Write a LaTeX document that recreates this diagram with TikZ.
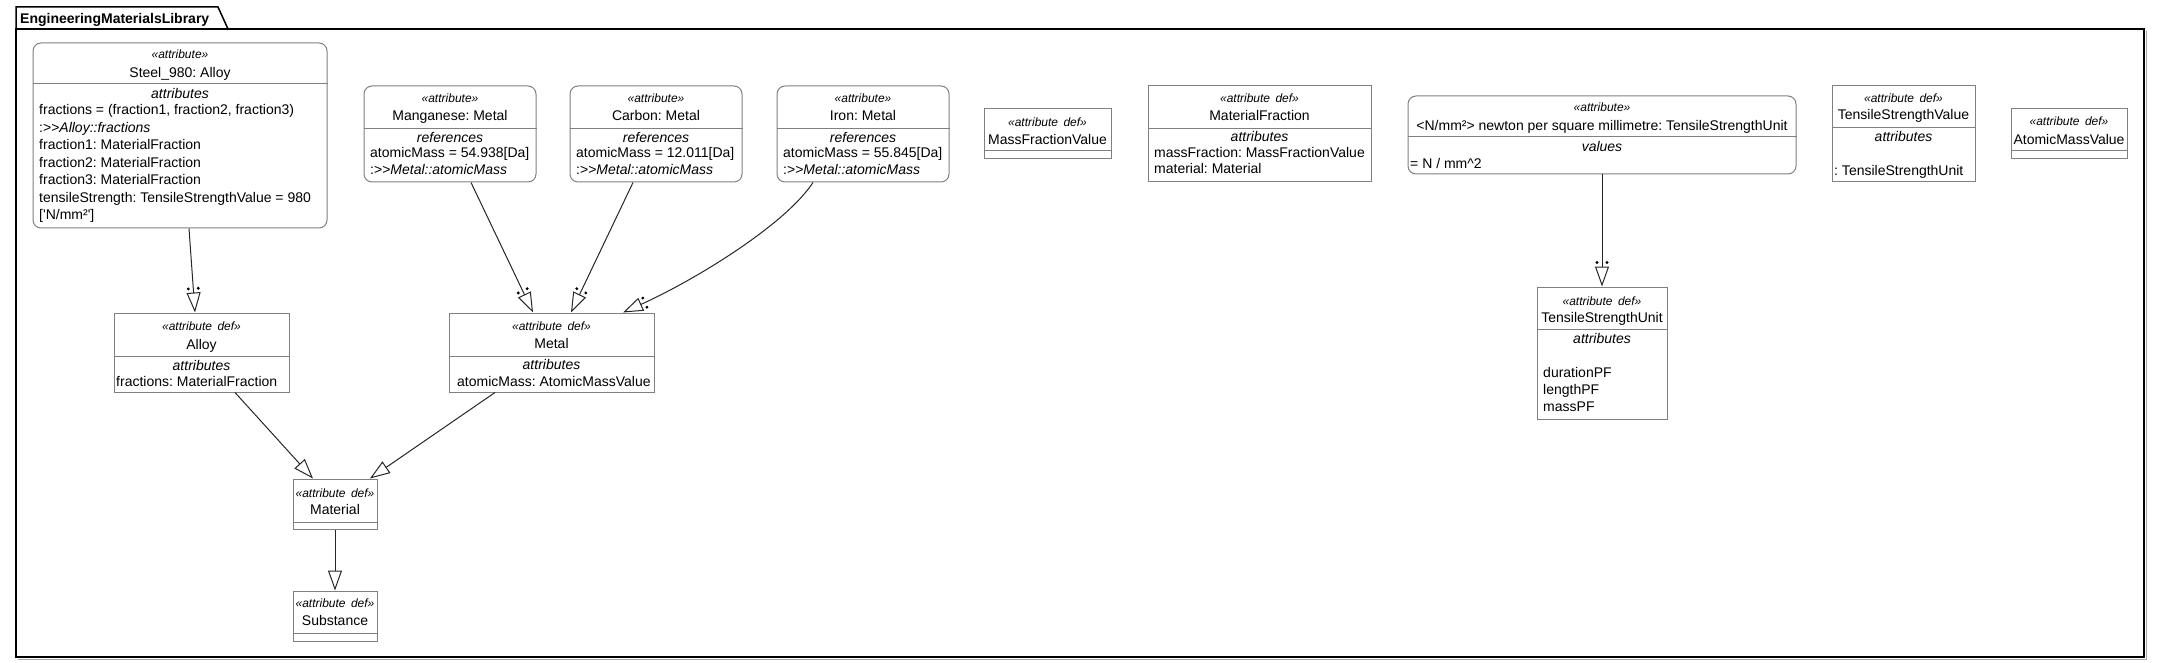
\documentclass[tikz,border=0pt]{standalone}
\usepackage{fontspec}
\newfontfamily\umlfont{Liberation Sans}
\usetikzlibrary{arrows.meta}
\usetikzlibrary{calc}
\frenchspacing
\tikzset{%
    blk/.style={draw=black!50, line width=1pt, inner sep=0pt, fill=white},
    inst/.style={blk, rounded corners=8pt},
    sep/.style={draw=black!50, line width=1pt},
    ster/.style={font=\umlfont\fontsize{12}{14}\selectfont\itshape, inner sep=0pt, anchor=base, yshift=-4pt},
    ttl/.style={font=\umlfont\fontsize{14}{17}\selectfont, inner sep=0pt, anchor=base, yshift=-5pt},
    cmp/.style={ttl, font=\umlfont\fontsize{14}{17}\selectfont\itshape},
    ln/.style={ttl, anchor=base west},
    conn/.style={draw=black!85, line width=1pt},
    gen/.style={conn, -{Triangle[open, length=20pt, width=14pt]}},
    typed/.style={gen},
    dot/.style={fill=black}
}
\begin{document}
\begin{tikzpicture}[x=1pt, y=-1pt]
    \useasboundingbox (0,0) rectangle (2160,663);
    % package frame
    \draw[black!35, line width=1pt] (2146.5,31) -- (2146.5,659.5) -- (18,659.5);
    \draw[line width=1.5pt] (16,29) rectangle (2144,657);
    \draw[line width=1.5pt] (16,29) -- (16,7) -- (218,7) -- (228,29);
    \node[ln, font=\umlfont\fontsize{14}{17}\selectfont\bfseries] (pkg) at (20,19) {EngineeringMaterialsLibrary};

    \node[inst, minimum width=294pt, minimum height=185pt] (steel) at (180,135.5) {};
    \draw[sep] (steel.west |- 0,84) -- (steel.east |- 0,84);
    \node[ster] (steel-st) at (180,55) {«attribute»};
    \node[ttl] (steel-nm) at (180,73) {Steel\_980: Alloy};
    \node[cmp] (steel-cp) at (180,94) {attributes};
    \node[ln] (steel-a1) at (39,109.3) {fractions = (fraction1, fraction2, fraction3)};
    \node[ln] (steel-a2) at (39,127.3) {:>>\textit{Alloy::fractions}};
    \node[ln] (steel-a3) at (39,145) {fraction1: MaterialFraction};
    \node[ln] (steel-a4) at (39,162.7) {fraction2: MaterialFraction};
    \node[ln] (steel-a5) at (39,180) {fraction3: MaterialFraction};
    \node[ln] (steel-a6) at (39,198) {tensileStrength: TensileStrengthValue = 980};
    \node[ln] (steel-a7) at (39,214.5) {['N/mm²']};

    \node[inst, minimum width=172pt, minimum height=96pt] (mang) at (450,134) {};
    \draw[sep] (mang.west |- 0,129) -- (mang.east |- 0,129);
    \node[ster] (mang-st) at (450,99) {«attribute»};
    \node[ttl] (mang-nm) at (450,116) {Manganese: Metal};
    \node[cmp] (mang-cp) at (450,138) {references};
    \node[ln] (mang-a1) at (370,153) {atomicMass = 54.938[Da]};
    \node[ln] (mang-a2) at (370,170) {:>>\textit{Metal::atomicMass}};

    \node[inst, minimum width=172pt, minimum height=96pt] (carbon) at (656,134) {};
    \draw[sep] (carbon.west |- 0,129) -- (carbon.east |- 0,129);
    \node[ster] (carbon-st) at (656,99) {«attribute»};
    \node[ttl] (carbon-nm) at (656,116) {Carbon: Metal};
    \node[cmp] (carbon-cp) at (656,138) {references};
    \node[ln] (carbon-a1) at (576,153) {atomicMass = 12.011[Da]};
    \node[ln] (carbon-a2) at (576,170) {:>>\textit{Metal::atomicMass}};

    \node[inst, minimum width=172pt, minimum height=96pt] (iron) at (863,134) {};
    \draw[sep] (iron.west |- 0,129) -- (iron.east |- 0,129);
    \node[ster] (iron-st) at (863,99) {«attribute»};
    \node[ttl] (iron-nm) at (863,116) {Iron: Metal};
    \node[cmp] (iron-cp) at (863,138) {references};
    \node[ln] (iron-a1) at (783,153) {atomicMass = 55.845[Da]};
    \node[ln] (iron-a2) at (783,170) {:>>\textit{Metal::atomicMass}};

    \node[blk, minimum width=127pt, minimum height=50pt] (mfv) at (1047.5,134) {};
    \draw[sep] (mfv.west |- 0,151) -- (mfv.east |- 0,151);
    \node[ster] (mfv-st) at (1047.5,122.5) {«attribute\hspace{0.45em}def»};
    \node[ttl] (mfv-nm) at (1047.5,139.5) {MassFractionValue};

    \node[blk, minimum width=223pt, minimum height=96pt] (matfrac) at (1259.5,134) {};
    \draw[sep] (matfrac.west |- 0,129) -- (matfrac.east |- 0,129);
    \node[ster] (matfrac-st) at (1259.5,99) {«attribute\hspace{0.45em}def»};
    \node[ttl] (matfrac-nm) at (1259.5,115.5) {MaterialFraction};
    \node[cmp] (matfrac-cp) at (1259.5,137) {attributes};
    \node[ln] (matfrac-a1) at (1154,153) {massFraction: MassFractionValue};
    \node[ln] (matfrac-a2) at (1154,169) {material: Material};

    \node[inst, minimum width=388pt, minimum height=78pt] (newton) at (1602,135) {};
    \draw[sep] (newton.west |- 0,137) -- (newton.east |- 0,137);
    \node[ster] (newton-st) at (1602,108) {«attribute»};
    \node[ttl] (newton-nm) at (1602,126) {<N/mm²> newton per square millimetre: TensileStrengthUnit};
    \node[cmp] (newton-cp) at (1602,147) {values};
    \node[ln] (newton-a1) at (1410,164) {= N / mm\textasciicircum 2};

    \node[blk, minimum width=143pt, minimum height=96pt] (tsv) at (1903.5,134) {};
    \draw[sep] (tsv.west |- 0,128) -- (tsv.east |- 0,128);
    \node[ster] (tsv-st) at (1903.5,99) {«attribute\hspace{0.45em}def»};
    \node[ttl] (tsv-nm) at (1903.5,115) {TensileStrengthValue};
    \node[cmp] (tsv-cp) at (1903.5,137) {attributes};
    \node[ln] (tsv-a1) at (1834,171) {: TensileStrengthUnit};

    \node[blk, minimum width=116pt, minimum height=50pt] (amv) at (2069,134) {};
    \draw[sep] (amv.west |- 0,151) -- (amv.east |- 0,151);
    \node[ster] (amv-st) at (2069,122) {«attribute\hspace{0.45em}def»};
    \node[ttl] (amv-nm) at (2069,140) {AtomicMassValue};

    \node[blk, minimum width=175pt, minimum height=79pt] (alloy) at (201.5,352.5) {};
    \draw[sep] (alloy.west |- 0,356) -- (alloy.east |- 0,356);
    \node[ster] (alloy-st) at (201.5,326) {«attribute\hspace{0.45em}def»};
    \node[ttl] (alloy-nm) at (201.5,344) {Alloy};
    \node[cmp] (alloy-cp) at (201.5,365) {attributes};
    \node[ln] (alloy-a1) at (116,381) {fractions: MaterialFraction};

    \node[blk, minimum width=205pt, minimum height=79pt] (metal) at (551.5,352.5) {};
    \draw[sep] (metal.west |- 0,356) -- (metal.east |- 0,356);
    \node[ster] (metal-st) at (551.5,326) {«attribute\hspace{0.45em}def»};
    \node[ttl] (metal-nm) at (551.5,343) {Metal};
    \node[cmp] (metal-cp) at (551.5,364) {attributes};
    \node[ln] (metal-a1) at (457,381) {atomicMass: AtomicMassValue};

    \node[blk, minimum width=84pt, minimum height=50pt] (material) at (335,504) {};
    \draw[sep] (material.west |- 0,522) -- (material.east |- 0,522);
    \node[ster] (material-st) at (335,493) {«attribute\hspace{0.45em}def»};
    \node[ttl] (material-nm) at (335,509) {Material};

    \node[blk, minimum width=84pt, minimum height=50pt] (substance) at (335,616) {};
    \draw[sep] (substance.west |- 0,633) -- (substance.east |- 0,633);
    \node[ster] (substance-st) at (335,603) {«attribute\hspace{0.45em}def»};
    \node[ttl] (substance-nm) at (335,620) {Substance};

    \node[blk, minimum width=130pt, minimum height=132pt] (tsu) at (1602,353) {};
    \draw[sep] (tsu.west |- 0,329) -- (tsu.east |- 0,329);
    \node[ster] (tsu-st) at (1602,301) {«attribute\hspace{0.45em}def»};
    \node[ttl] (tsu-nm) at (1602,317) {TensileStrengthUnit};
    \node[cmp] (tsu-cp) at (1602,338) {attributes};
    \node[ln] (tsu-a1) at (1543,372) {durationPF};
    \node[ln] (tsu-a2) at (1543,389) {lengthPF};
    \node[ln] (tsu-a3) at (1543,406) {massPF};

    % typed-by connectors, with the two dots beside the head
    \coordinate (steel-out) at ([xshift=9pt]steel.south);
    \coordinate (alloy-in) at ([xshift=-6.5pt]alloy.north);
    \coordinate (mang-out) at ([xshift=21pt]mang.south);
    \coordinate (metal-in1) at ([xshift=-18.5pt]metal.north);
    \coordinate (carbon-out) at ([xshift=-23pt]carbon.south);
    \coordinate (metal-in2) at ([xshift=19.5pt]metal.north);
    \coordinate (iron-out) at ([xshift=-50pt]iron.south);
    \coordinate (metal-in3) at ([xshift=71.5pt]metal.north);
    \coordinate (iron-c1) at (785,225);
    \coordinate (iron-c2) at (695,280);
    \draw[typed] (steel-out) -- (alloy-in);
    \draw[typed] (mang-out) -- (metal-in1);
    \draw[typed] (carbon-out) -- (metal-in2);
    \draw[typed] (iron-out) .. controls (iron-c1) and (iron-c2) .. (metal-in3);
    \draw[typed] (newton.south) -- (tsu.north);
    \fill[dot] ($(alloy-in)!24pt!(steel-out)!5pt!90:(steel-out)$) circle (1.6pt)
               ($(alloy-in)!24pt!(steel-out)!5pt!-90:(steel-out)$) circle (1.6pt);
    \fill[dot] ($(metal-in1)!24pt!(mang-out)!5pt!90:(mang-out)$) circle (1.6pt)
               ($(metal-in1)!24pt!(mang-out)!5pt!-90:(mang-out)$) circle (1.6pt);
    \fill[dot] ($(metal-in2)!24pt!(carbon-out)!5pt!90:(carbon-out)$) circle (1.6pt)
               ($(metal-in2)!24pt!(carbon-out)!5pt!-90:(carbon-out)$) circle (1.6pt);
    \fill[dot] ($(metal-in3)!24pt!(iron-c2)!5pt!90:(iron-c2)$) circle (1.6pt)
               ($(metal-in3)!24pt!(iron-c2)!5pt!-90:(iron-c2)$) circle (1.6pt);
    \fill[dot] ($(tsu.north)!24pt!(newton.south)!5pt!90:(newton.south)$) circle (1.6pt)
               ($(tsu.north)!24pt!(newton.south)!5pt!-90:(newton.south)$) circle (1.6pt);

    \draw[gen] ([xshift=33.5pt]alloy.south) -- ([xshift=-22pt]material.north);
    \draw[gen] ([xshift=-56.5pt]metal.south) -- ([xshift=35pt]material.north);
    \draw[gen] (material.south) -- (substance.north);
\end{tikzpicture}
\end{document}
